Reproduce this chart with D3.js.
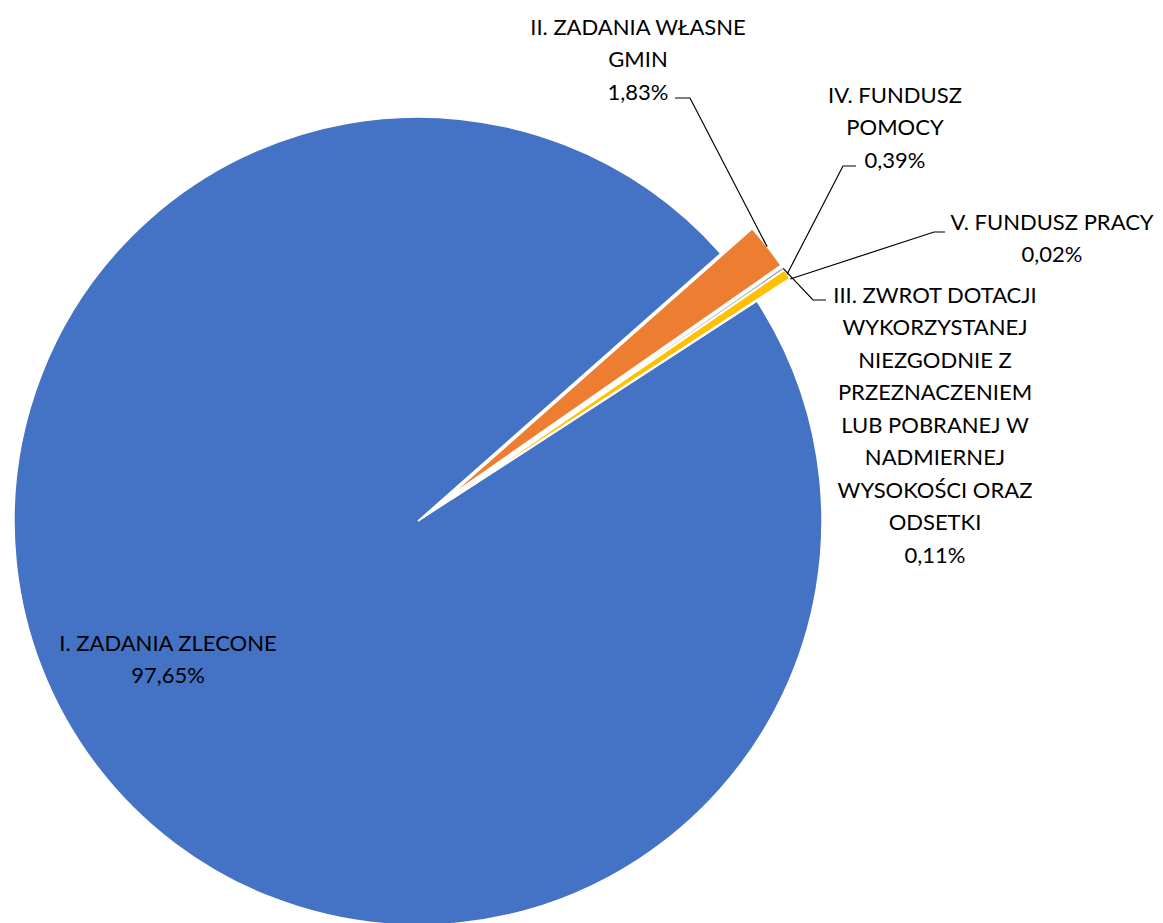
<!DOCTYPE html>
<html>
<head>
<meta charset="utf-8">
<script src="https://cdn.jsdelivr.net/npm/d3@7"></script>
<style>
  html, body { margin: 0; padding: 0; background: #fff; }
  svg { display: block; }
</style>
</head>
<body>
<div id="chart"></div>
<script>
// data
const categories = [
  "I. ZADANIA ZLECONE",
  "II. ZADANIA WŁASNE GMIN",
  "III. ZWROT DOTACJI WYKORZYSTANEJ NIEZGODNIE Z PRZEZNACZENIEM LUB POBRANEJ W NADMIERNEJ WYSOKOŚCI ORAZ ODSETKI",
  "IV. FUNDUSZ POMOCY",
  "V. FUNDUSZ PRACY"
]
const shares = [97.65, 1.83, 0.11, 0.39, 0.02]
const shareLabels = ["97,65%", "1,83%", "0,11%", "0,39%", "0,02%"]
const colors = ["#4472C4", "#ED7D31", "#A5A5A5", "#FFC000", "#5B9BD5"]

// label text broken into lines, as on the picture
const labelLines = [
  ["I. ZADANIA ZLECONE"],
  ["II. ZADANIA WŁASNE", "GMIN"],
  ["III. ZWROT DOTACJI", "WYKORZYSTANEJ", "NIEZGODNIE Z", "PRZEZNACZENIEM", "LUB POBRANEJ W", "NADMIERNEJ", "WYSOKOŚCI ORAZ", "ODSETKI"],
  ["IV. FUNDUSZ", "POMOCY"],
  ["V. FUNDUSZ PRACY"]
]

// layout
const width = 1163
const height = 923
const cx = 418, cy = 521
const radius = 404
const explode = [0, 40, 40, 40, 40]
const lineH = 32.5
const fontSize = 22

// label placement: center x, first line y, and leader elbow (null = inside)
const labelPos = [
  { x: 168, y: 643, elbow: null },
  { x: 638, y: 27, elbow: [[675, 98], [690, 98]] },
  { x: 935, y: 295, elbow: [[826, 300], [813, 300]] },
  { x: 895, y: 95, elbow: [[856, 166], [843, 166]] },
  { x: 1052, y: 222, elbow: [[945, 232], [934, 232]] }
]

const svg = d3.select("#chart").append("svg")
  .attr("width", width)
  .attr("height", height)

const pie = d3.pie()
  .sort(null)
  .value(d => d)
  .startAngle(57 * Math.PI / 180)
  .endAngle(57 * Math.PI / 180 + 2 * Math.PI)

const arcs = pie(shares)

const arc = d3.arc().innerRadius(0).outerRadius(radius)

function offset(d, i) {
  const mid = (d.startAngle + d.endAngle) / 2
  return [Math.sin(mid) * explode[i], -Math.cos(mid) * explode[i]]
}

const g = svg.append("g")
  .attr("transform", "translate(" + cx + "," + cy + ")")

g.selectAll("path.slice")
  .data(arcs)
  .join("path")
  .attr("class", "slice")
  .attr("transform", (d, i) => { const o = offset(d, i); return "translate(" + o[0] + "," + o[1] + ")" })
  .attr("d", arc)
  .attr("fill", (d, i) => colors[i])
  .attr("stroke", "#fff")
  .attr("stroke-width", 1.5)

// leader lines
arcs.forEach((d, i) => {
  const p = labelPos[i]
  if (!p.elbow) return
  const mid = (d.startAngle + d.endAngle) / 2
  const o = offset(d, i)
  const tx = cx + o[0] + Math.sin(mid) * radius
  const ty = cy + o[1] - Math.cos(mid) * radius
  const pts = [p.elbow[0], p.elbow[1], [tx, ty]]
  svg.append("path")
    .attr("d", d3.line()(pts))
    .attr("fill", "none")
    .attr("stroke", "#000")
    .attr("stroke-width", 1.2)
})

// labels
arcs.forEach((d, i) => {
  const p = labelPos[i]
  const lines = labelLines[i].concat([shareLabels[i]])
  const t = svg.append("text")
    .attr("text-anchor", "middle")
    .attr("font-family", "Lato, sans-serif")
    .attr("font-size", fontSize)
    .attr("fill", "#000")
  lines.forEach((s, k) => {
    t.append("tspan")
      .attr("x", p.x)
      .attr("y", p.y + k * lineH)
      .attr("dy", "0.35em")
      .text(s)
  })
})
</script>
</body>
</html>
